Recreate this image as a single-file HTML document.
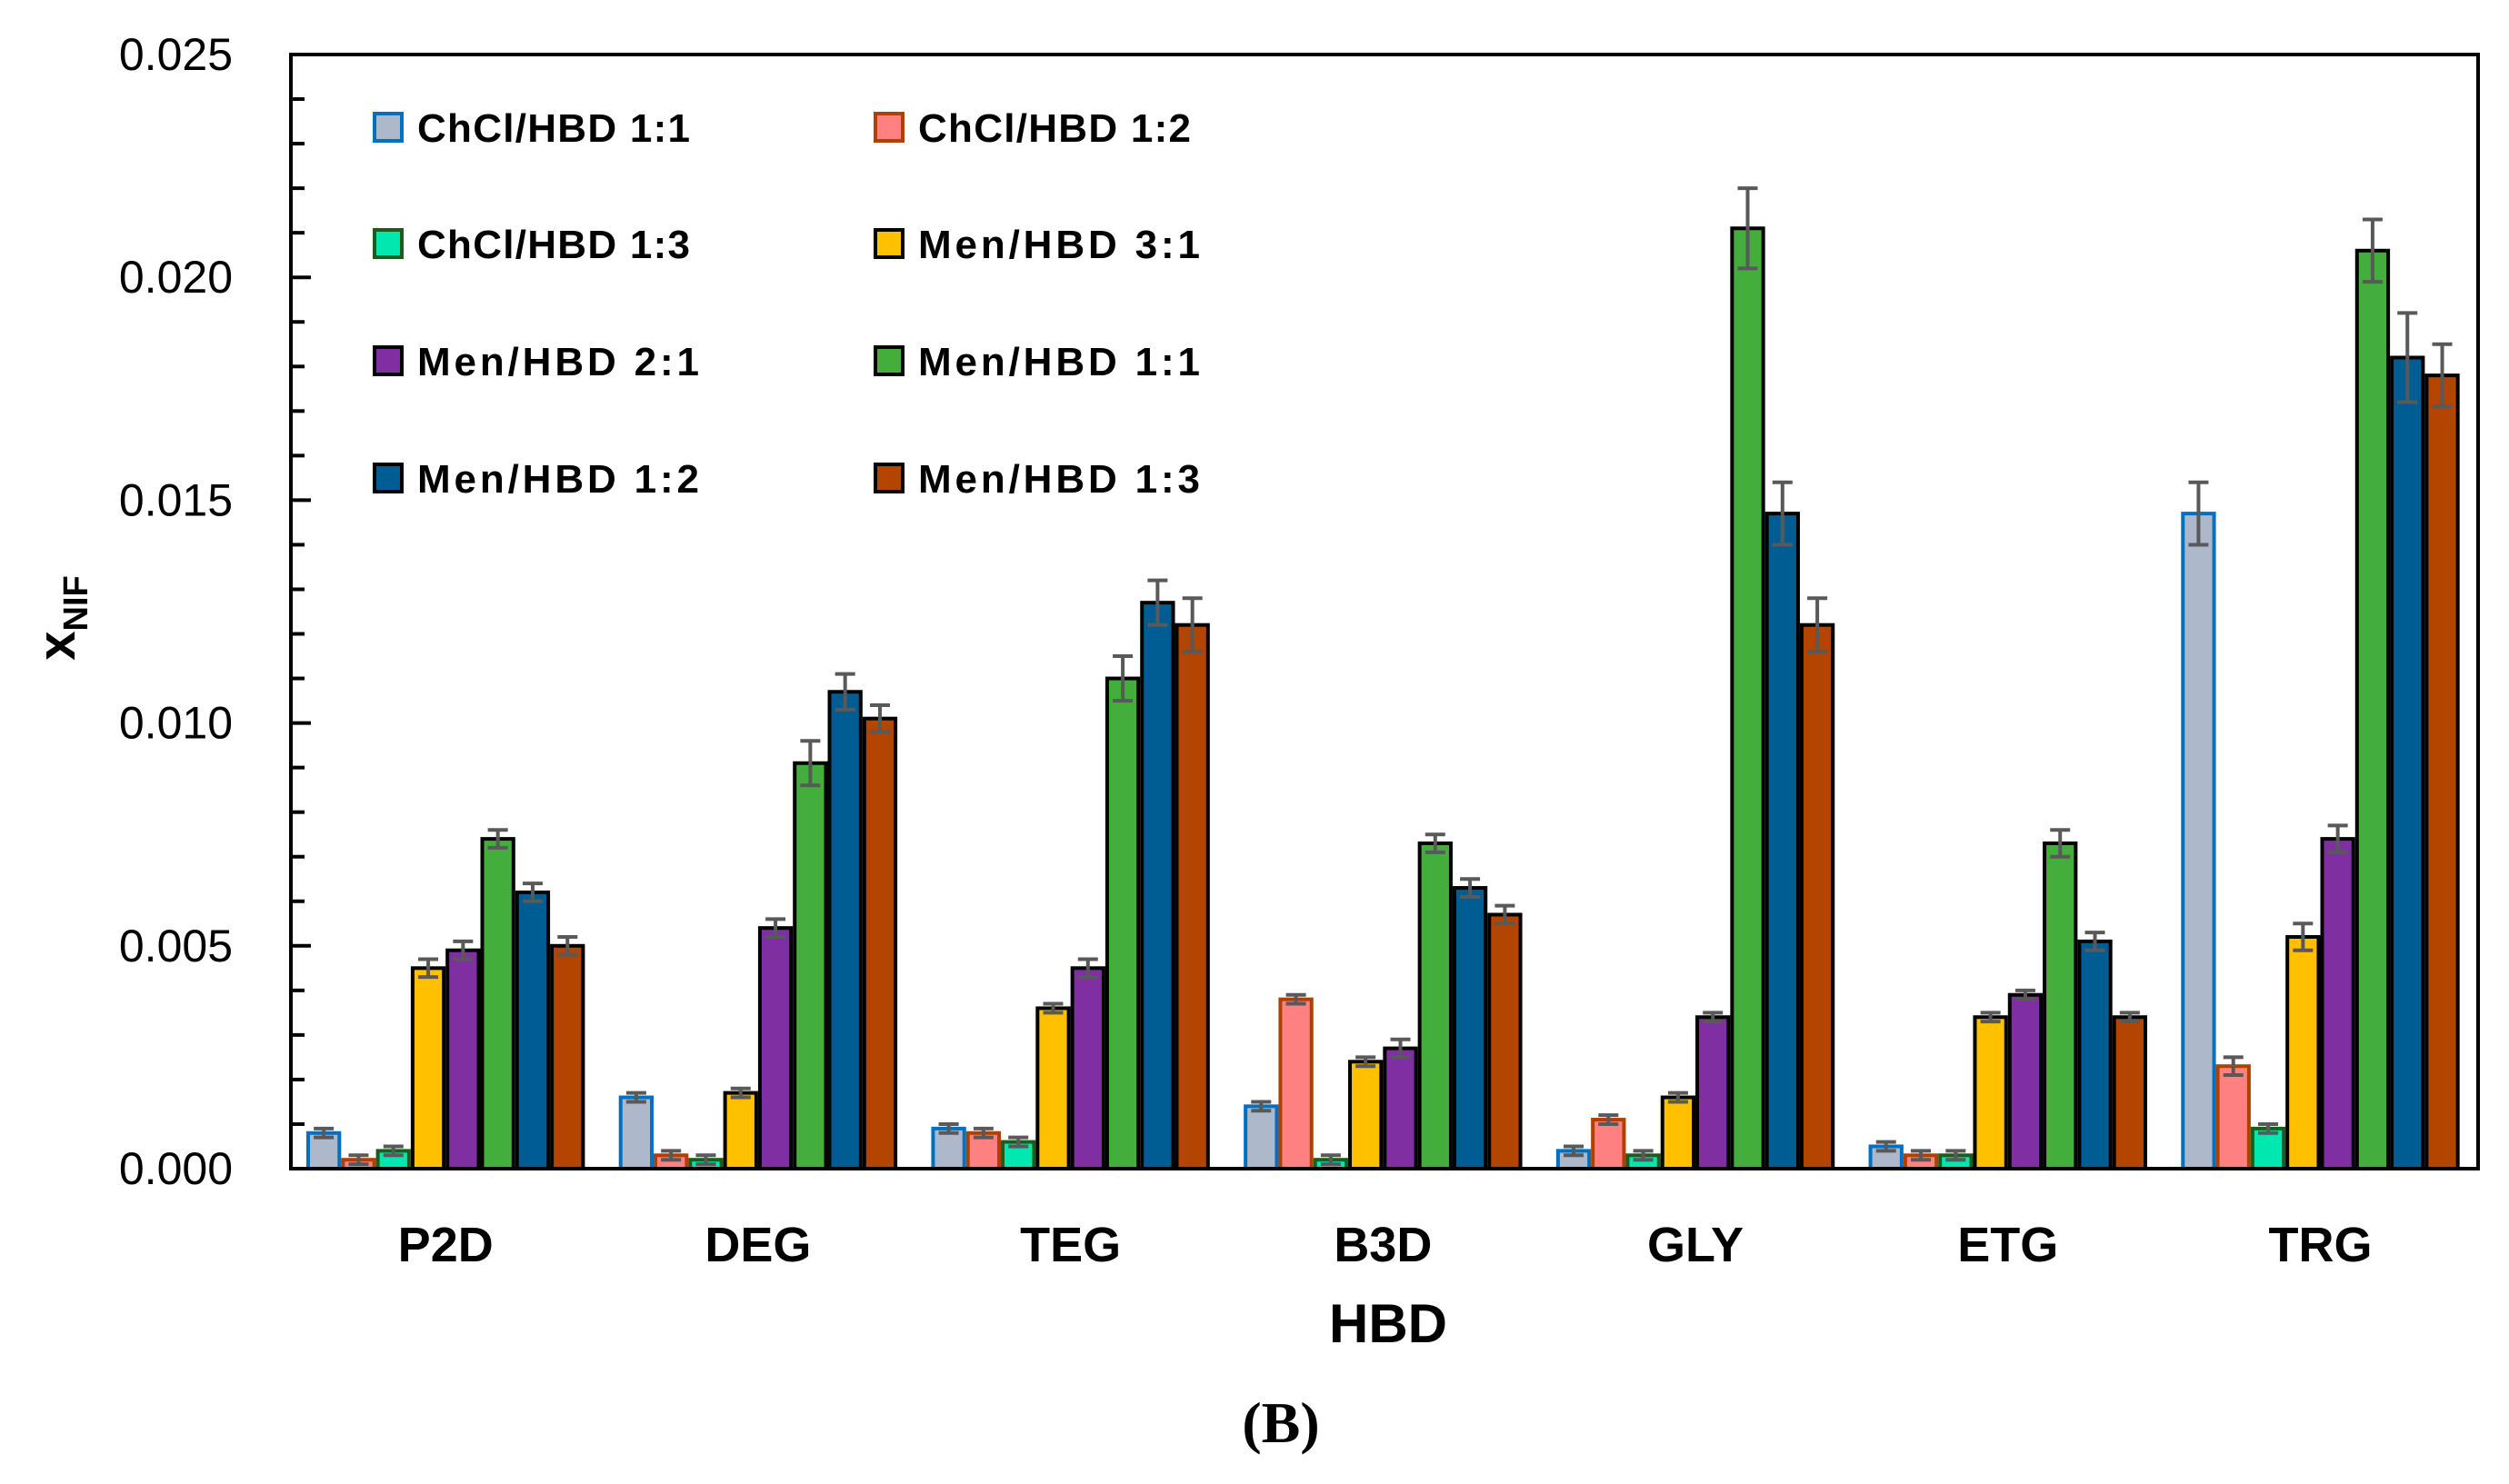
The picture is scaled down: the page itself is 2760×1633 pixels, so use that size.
<!DOCTYPE html>
<html><head><meta charset="utf-8"><style>
html,body{margin:0;padding:0;background:#fff;}
svg{display:block;font-family:"Liberation Sans",sans-serif;}
</style></head><body>
<svg id="chart" width="2760" height="1633" viewBox="0 0 2760 1633" xmlns="http://www.w3.org/2000/svg">
<g id="plot"></g>
<text x="1527" y="1477" text-anchor="middle" font-size="60" font-weight="bold" fill="#000" font-family="Liberation Sans, sans-serif">HBD</text>
<text transform="translate(82,680) rotate(-90)" text-anchor="middle" font-size="58" font-weight="bold" fill="#000" font-family="Liberation Sans, sans-serif">x<tspan font-size="38" dy="14">NIF</tspan></text>
<text x="1409" y="1587" text-anchor="middle" font-size="64" font-weight="bold" fill="#000" font-family="Liberation Serif, serif">(B)</text>
</svg>
<script>
const categories = ["P2D","DEG","TEG","B3D","GLY","ETG","TRG"];
const seriesNames = ["ChCl/HBD 1:1","ChCl/HBD 1:2","ChCl/HBD 1:3","Men/HBD 3:1","Men/HBD 2:1","Men/HBD 1:1","Men/HBD 1:2","Men/HBD 1:3"];
const s11 = [0.0008,0.0016,0.0009,0.0014,0.0004,0.0005,0.0147];
const s12 = [0.0002,0.0003,0.0008,0.0038,0.0011,0.0003,0.0023];
const s13 = [0.0004,0.0002,0.0006,0.0002,0.0003,0.0003,0.0009];
const m31 = [0.0045,0.0017,0.0036,0.0024,0.0016,0.0034,0.0052];
const m21 = [0.0049,0.0054,0.0045,0.0027,0.0034,0.0039,0.0074];
const m11 = [0.0074,0.0091,0.0110,0.0073,0.0211,0.0073,0.0206];
const m12 = [0.0062,0.0107,0.0127,0.0063,0.0147,0.0051,0.0182];
const m13 = [0.0050,0.0101,0.0122,0.0057,0.0122,0.0034,0.0178];
const e11 = [0.0001,0.0001,0.0001,0.0001,0.0001,0.0001,0.0007];
const e12 = [0.0001,0.0001,0.0001,0.0001,0.0001,0.0001,0.0002];
const e13 = [0.0001,0.0001,0.0001,0.0001,0.0001,0.0001,0.0001];
const e31 = [0.0002,0.0001,0.0001,0.0001,0.0001,0.0001,0.0003];
const e21 = [0.0002,0.0002,0.0002,0.0002,0.0001,0.0001,0.0003];
const ee11 = [0.0002,0.0005,0.0005,0.0002,0.0009,0.0003,0.0007];
const ee12 = [0.0002,0.0004,0.0005,0.0002,0.0007,0.0002,0.0010];
const ee13 = [0.0002,0.0003,0.0006,0.0002,0.0006,0.0001,0.0007];
const yTicks = ["0.000","0.005","0.010","0.015","0.020","0.025"];

const values=[s11,s12,s13,m31,m21,m11,m12,m13];
const errs=[e11,e12,e13,e31,e21,ee11,ee12,ee13];
const fills=["#adb9ca","#ff8080","#00e8b0","#ffc000","#7f2fa2","#44ae3c","#005d94","#b34500"];
const strokes=["#0070c0","#b04000","#1e5c1e","#000","#000","#000","#000","#000"];
const L=320,R=2726,T=60,B=1286,YMAX=0.025;
const y=v=>B-(v/YMAX)*(B-T);
const gw=(R-L)/categories.length, off=17, bw=38.3;
const xb=(g,s)=>L+g*gw+off+s*bw;
const NS="http://www.w3.org/2000/svg";
const svg=document.getElementById('chart');
function mk(tag,attrs,parent){const e=document.createElementNS(NS,tag);for(const k in attrs)e.setAttribute(k,attrs[k]);(parent||svg).appendChild(e);return e;}

for(let s=0;s<values.length;s++){
  for(let g=0;g<categories.length;g++){
    const v=values[s][g];
    const r=mk('rect',{x:xb(g,s)+2,y:y(v),width:bw-4,height:B-y(v),fill:fills[s],stroke:strokes[s],'stroke-width':4});
    
    
  }
}
for(let s=0;s<values.length;s++){
  for(let g=0;g<categories.length;g++){
    const v=values[s][g],e=errs[s][g],cx=xb(g,s)+bw/2;
    const eg=mk('g',{stroke:'#595959','stroke-width':4,fill:'none'});
    
    
    mk('line',{x1:cx,x2:cx,y1:y(v+e),y2:y(v-e)},eg);
    mk('line',{x1:cx-11,x2:cx+11,y1:y(v+e),y2:y(v+e)},eg);
    mk('line',{x1:cx-11,x2:cx+11,y1:y(v-e),y2:y(v-e)},eg);
  }
}
const fr=mk('rect',{x:L,y:T,width:R-L,height:B-T,fill:'none',stroke:'#000','stroke-width':4});


for(let i=0;i<=25;i++){
  const v=i*0.001,len=(i%5===0)?22:15;
  const t=mk('line',{x1:L,x2:L+len,y1:y(v),y2:y(v),stroke:'#000','stroke-width':4});
  
  
}
yTicks.forEach((lab,i)=>{
  const t=mk('text',{x:256,y:y(parseFloat(lab))+17,'text-anchor':'end','font-size':50,fill:'#000'});
  t.textContent=lab;
  
  
});
categories.forEach((c,g)=>{
  const t=mk('text',{x:L+g*gw+off+4*bw,y:1388,'text-anchor':'middle','font-size':54,'font-weight':'bold',fill:'#000'});
  t.textContent=c;
  
  
});
const lx=[426,977], ly=[141,269,398,527];
seriesNames.forEach((n,i)=>{
  const cx=lx[i%2], cy=ly[Math.floor(i/2)];
  const lg=mk('g',{});
  
  
  mk('rect',{x:cx-14,y:cy-16,width:30,height:30,fill:fills[i],stroke:strokes[i],'stroke-width':4},lg);
  const t=mk('text',{x:cx+33,y:cy+15,'font-size':44,'font-weight':'bold',fill:'#000',textLength:n.startsWith('ChCl')?300:310},lg);
  t.textContent=n;
});
</script>
</body></html>
